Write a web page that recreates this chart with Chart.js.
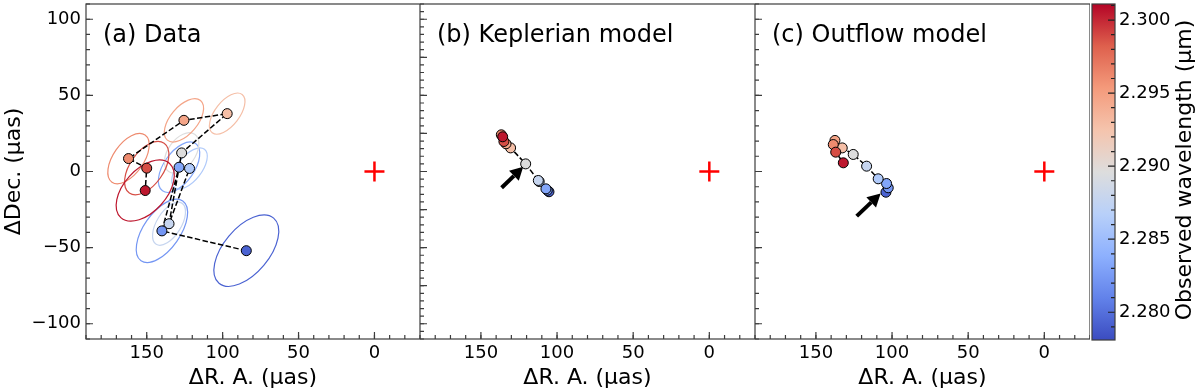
<!DOCTYPE html>
<html>
<head>
<meta charset="utf-8">
<script src="https://cdn.jsdelivr.net/npm/chart.js@4.4.0/dist/chart.umd.min.js"></script>
<style>
  body { margin: 0; background: #fff; }
  #wrap { position: relative; width: 1200px; height: 392px; }
  canvas { position: absolute; top: 0; }
</style>
</head>
<body>
<div id="wrap">
  <canvas id="panelA" width="420" height="392" style="left:0px"></canvas>
  <canvas id="panelB" width="335" height="392" style="left:420px"></canvas>
  <canvas id="panelC" width="335" height="392" style="left:755px"></canvas>
  <canvas id="cbar" width="120" height="392" style="left:1080px"></canvas>
</div>
<script>
// observed wavelength of each spectral channel (micron), ascending
const wavelength = [2.2793, 2.2822, 2.2832, 2.2862, 2.2878, 2.2896, 2.2928, 2.2946, 2.2961, 2.2988, 2.3005];

// (a) measured offsets (uas)
const dataRA  = [84.4, 140, 128.7, 121.8, 135.3, 127, 97, 125.5, 162, 150, 151];
const dataDec = [-52, -39, 2.8, 2, -34.3, 12.2, 38, 33.6, 8.5, 2.2, -12.5];
// error ellipses: semi axes (uas) and tilt on the image (deg)
const errMajor = [28, 24, 19, 16, 16, 15, 16, 17, 19, 20, 24];
const errMinor = [15, 12, 10, 8, 8, 9, 8, 9, 10, 11, 14];
const errTilt  = [50, 55, 55, 52, 58, 55, 52, 50, 55, 55, 48];

// (b) Keplerian model
const kepRA  = [105.3, 106.4, 107.3, 111.7, 112.3, 120.6, 130.5, 133.5, 136.6, 134.9, 135.7];
const kepDec = [-13.3, -12.3, -11.4, -6.6, -5.9, 5.0, 15.5, 18.2, 24.1, 19.7, 22.8];

// (c) Outflow model
const outRA  = [104.0, 102.5, 103.6, 109.1, 116.7, 125.5, 132.7, 137.5, 138.6, 137.0, 132.0];
const outDec = [-13.6, -10.7, -7.9, -4.8, 3.5, 11.2, 15.5, 20.4, 17.7, 12.7, 5.7];

// arrows [tailRA, tailDec, headRA, headDec]
const arrowB = [136.4, -10.7, 122.2, 3.1];
const arrowC = [123.2, -29.3, 107.5, -14.4];

const panelTitles = ['(a) Data', '(b) Keplerian model', '(c) Outflow model'];
const raTicks = [150, 100, 50, 0];
const decTicks = [100, 50, 0, -50, -100];
const cbarTicks = [2.280, 2.285, 2.290, 2.295, 2.300];
const raMin = -30, raMax = 190, decMin = -110, decMax = 110;
const cbarMin = 2.2781, cbarMax = 2.3011;

Chart.defaults.font.family = "'DejaVu Sans', sans-serif";
Chart.defaults.color = '#000';

// coolwarm
const cwStops = [[59,76,192],[98,130,234],[141,176,254],[184,208,249],[221,221,221],
                 [245,196,173],[244,154,123],[222,96,77],[180,4,38]];
function coolwarm(t) {
  t = Math.max(0, Math.min(1, t));
  const f = t * (cwStops.length - 1), i = Math.min(Math.floor(f), cwStops.length - 2), r = f - i;
  const c = cwStops[i].map((v, k) => Math.round(v + (cwStops[i + 1][k] - v) * r));
  return `rgb(${c[0]},${c[1]},${c[2]})`;
}
const wlColor = wavelength.map(w => coolwarm((w - cbarMin) / (cbarMax - cbarMin)));
const minus = v => String(v).replace('-', '\u2212');

const axesFrame = {
  id: 'axesFrame',
  afterDraw(chart, args, o) {
    const {ctx, chartArea: a, scales: {x, y}} = chart;
    ctx.save();
    ctx.strokeStyle = '#3c3c3c';
    ctx.lineWidth = 1.2;
    ctx.strokeRect(a.left, a.top, a.right - a.left, a.bottom - a.top);
    const ticks = (scale, step, len, horiz) => {
      const lo = Math.min(scale.min, scale.max), hi = Math.max(scale.min, scale.max);
      ctx.beginPath();
      for (let i = Math.ceil(lo / step); i <= Math.floor(hi / step); i++) {
        const p = scale.getPixelForValue(i * step);
        if (horiz) { ctx.moveTo(p, a.bottom); ctx.lineTo(p, a.bottom - len); }
        else { ctx.moveTo(a.left, p); ctx.lineTo(a.left + len, p); }
      }
      ctx.stroke();
    };
    ticks(x, o.xMinor, 4, true);
    ticks(x, o.xMajor, 7, true);
    ticks(y, o.yMinor, 4, false);
    ticks(y, o.yMajor, 7, false);
    ctx.fillStyle = '#000';
    ctx.font = "24px 'DejaVu Sans'";
    ctx.textBaseline = 'alphabetic';
    ctx.fillText(o.title, a.left + 17, a.top + 38);
    ctx.restore();
  }
};

const errEllipses = {
  id: 'errEllipses',
  beforeDatasetsDraw(chart, args, o) {
    if (!o.major) return;
    const {ctx, chartArea: a, scales: {x, y}} = chart;
    const k = Math.abs(x.getPixelForValue(1) - x.getPixelForValue(0));
    ctx.save();
    ctx.beginPath();
    ctx.rect(a.left, a.top, a.right - a.left, a.bottom - a.top);
    ctx.clip();
    ctx.lineWidth = 1.2;
    o.ra.forEach((ra, i) => {
      ctx.strokeStyle = wlColor[i];
      ctx.beginPath();
      ctx.ellipse(x.getPixelForValue(ra), y.getPixelForValue(o.dec[i]), o.major[i] * k, o.minor[i] * k,
        -o.tilt[i] * Math.PI / 180, 0, 2 * Math.PI);
      ctx.stroke();
    });
    ctx.restore();
  }
};

const arrowMark = {
  id: 'arrowMark',
  afterDatasetsDraw(chart, args, o) {
    if (!o.arrow) return;
    const {ctx, scales: {x, y}} = chart;
    const [tr, td, hr, hd] = o.arrow;
    const x0 = x.getPixelForValue(tr), y0 = y.getPixelForValue(td);
    const x1 = x.getPixelForValue(hr), y1 = y.getPixelForValue(hd);
    const ang = Math.atan2(y1 - y0, x1 - x0), hl = 13, hw = 7;
    const bx = x1 - hl * Math.cos(ang), by = y1 - hl * Math.sin(ang);
    ctx.save();
    ctx.strokeStyle = '#000'; ctx.fillStyle = '#000';
    ctx.lineWidth = 4;
    ctx.beginPath(); ctx.moveTo(x0, y0); ctx.lineTo(bx, by); ctx.stroke();
    ctx.beginPath();
    ctx.moveTo(x1, y1);
    ctx.lineTo(bx + hw * Math.sin(ang), by - hw * Math.cos(ang));
    ctx.lineTo(bx - hw * Math.sin(ang), by + hw * Math.cos(ang));
    ctx.closePath(); ctx.fill();
    ctx.restore();
  }
};

function makePanel(id, ra, dec, idx, extra) {
  const pts = ra.map((v, i) => ({x: v, y: dec[i]}));
  const showY = idx === 0;
  return new Chart(document.getElementById(id), {
    type: 'scatter',
    data: {
      datasets: [
        { data: pts, pointRadius: 5, pointHoverRadius: 5, pointBackgroundColor: wlColor,
          pointBorderColor: '#000', pointBorderWidth: 1, order: 0 },
        { data: pts, showLine: true, pointRadius: 0, borderColor: '#000', borderWidth: 1.5,
          borderDash: [5.5, 2.4], order: 1 },
        { data: [{x: 0, y: 0}], pointStyle: 'cross', pointRadius: 10, pointBorderColor: '#ff0000',
          pointBorderWidth: 2.5, order: 2 }
      ]
    },
    options: {
      responsive: false, animation: false, devicePixelRatio: 1,
      layout: {autoPadding: false, padding: {left: 0, top: 4, right: 0, bottom: 0}},
      plugins: {
        legend: {display: false}, tooltip: {enabled: false},
        axesFrame: Object.assign({xMajor: 50, xMinor: 10, yMajor: 50, yMinor: 10, title: panelTitles[idx]}, extra.ticks),
        errEllipses: extra.ellipses || {},
        arrowMark: {arrow: extra.arrow}
      },
      scales: {
        x: {
          type: 'linear', min: raMin, max: raMax, reverse: true,
          grid: {display: false, drawTicks: false}, border: {display: false},
          afterBuildTicks: s => { s.ticks = raTicks.map(v => ({value: v})); },
          ticks: {font: {size: 18}, padding: 4, autoSkip: false, maxRotation: 0},
          title: {display: true, text: 'ΔR. A. (μas)', font: {size: 22}, padding: {top: 0, bottom: 1}},
          afterFit: s => { s.height = 53; s.paddingLeft = 0; s.paddingRight = 0; }
        },
        y: {
          type: 'linear', min: decMin, max: decMax, display: showY,
          grid: {display: false, drawTicks: false}, border: {display: false},
          afterBuildTicks: s => { s.ticks = decTicks.map(v => ({value: v})); },
          ticks: {font: {size: 18}, padding: 5, autoSkip: false, callback: minus},
          title: {display: true, text: 'ΔDec. (μas)', font: {size: 22}, padding: {top: 1, bottom: 0}},
          afterFit: s => { s.width = showY ? 86 : 0; s.paddingTop = 0; s.paddingBottom = 0; }
        }
      }
    },
    plugins: [errEllipses, axesFrame, arrowMark]
  });
}

makePanel('panelA', dataRA, dataDec, 0,
  {ellipses: {ra: dataRA, dec: dataDec, major: errMajor, minor: errMinor, tilt: errTilt}});
makePanel('panelB', kepRA, kepDec, 1, {arrow: arrowB, ticks: {yMajor: 25, yMinor: 5}});
makePanel('panelC', outRA, outDec, 2, {arrow: arrowC});

const colorbar = {
  id: 'colorbar',
  beforeDraw(chart) {
    const {ctx, chartArea: a} = chart;
    const g = ctx.createLinearGradient(0, a.bottom, 0, a.top);
    cwStops.forEach((c, i) => g.addColorStop(i / (cwStops.length - 1), `rgb(${c[0]},${c[1]},${c[2]})`));
    ctx.save();
    ctx.fillStyle = g;
    ctx.fillRect(a.left, a.top, a.right - a.left, a.bottom - a.top);
    ctx.restore();
  },
  afterDraw(chart) {
    const {ctx, chartArea: a, scales: {y}} = chart;
    ctx.save();
    ctx.strokeStyle = '#222';
    ctx.lineWidth = 1.2;
    ctx.beginPath();
    for (let i = Math.ceil(y.min * 1000); i <= Math.floor(y.max * 1000); i++) {
      const p = y.getPixelForValue(i / 1000);
      const len = i % 5 === 0 ? 7 : 4;
      ctx.moveTo(a.right, p); ctx.lineTo(a.right - len, p);
    }
    ctx.stroke();
    ctx.strokeStyle = '#3c3c3c';
    ctx.strokeRect(a.left, a.top, a.right - a.left, a.bottom - a.top);
    ctx.fillStyle = '#000';
    ctx.font = "22px 'DejaVu Sans'";
    ctx.textAlign = 'center';
    ctx.textBaseline = 'middle';
    ctx.translate(105, (a.top + a.bottom) / 2 - 2);
    ctx.rotate(-Math.PI / 2);
    ctx.fillText('Observed wavelength (μm)', 0, 0);
    ctx.restore();
  }
};

new Chart(document.getElementById('cbar'), {
  type: 'scatter',
  data: {datasets: []},
  options: {
    responsive: false, animation: false, devicePixelRatio: 1,
    layout: {autoPadding: false, padding: {left: 12, top: 4, right: 0, bottom: 52}},
    plugins: {legend: {display: false}, tooltip: {enabled: false}},
    scales: {
      x: {display: false, min: 0, max: 1},
      y: {
        position: 'right', min: cbarMin, max: cbarMax,
        grid: {display: false, drawTicks: false}, border: {display: false},
        afterBuildTicks: s => { s.ticks = cbarTicks.map(v => ({value: v})); },
        ticks: {callback: v => Number(v).toFixed(3), font: {size: 18}, padding: 4, autoSkip: false},
        afterFit: s => { s.width = 85; s.paddingTop = 0; s.paddingBottom = 0; }
      }
    }
  },
  plugins: [colorbar]
});
</script>
</body>
</html>
